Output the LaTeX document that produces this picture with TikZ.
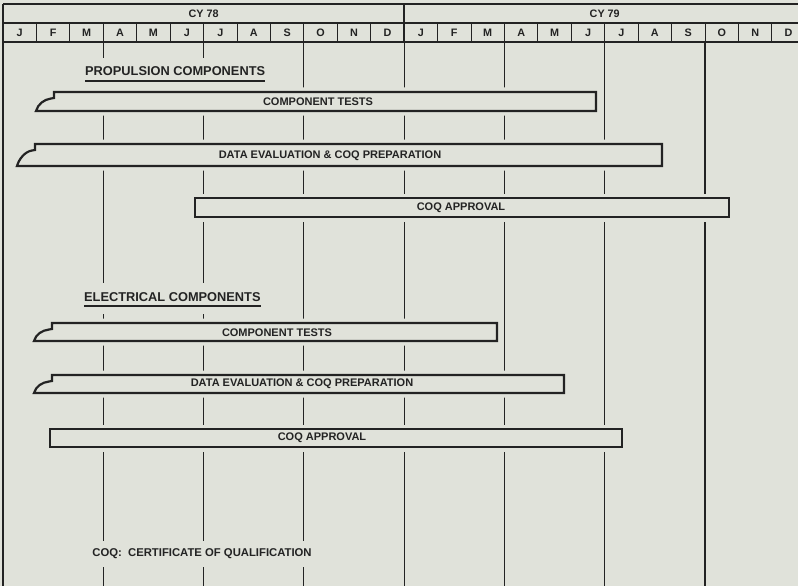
\documentclass[tikz,border=0pt]{standalone}
\usepackage{fontspec}
\setmainfont{Liberation Sans}
\usetikzlibrary{positioning}
\definecolor{paper}{RGB}{224,226,218}
\definecolor{ink}{RGB}{35,35,35}

% bar whose left end is broken off: top-left x, right x, top y, bottom y
\newcommand{\brokenbar}[4]{(#1,#3) -- (#1,#3+6) -- (#1-3,#3+6.5) .. controls (#1-10,#3+7.5) and (#1-16,#4-7) .. (#1-18,#4) -- (#2,#4) -- (#2,#3) -- cycle}

\begin{document}
\begin{tikzpicture}[
    x=1pt, y=-1pt,
    frame/.style={draw=ink, line width=1.5pt},
    sep/.style={draw=ink, line width=1pt},
    grid/.style={draw=ink, line width=1.2pt},
    bar/.style={draw=ink, line width=2.2pt, fill=paper},
    halo/.style={draw=paper, line width=9pt, fill=paper, line join=round},
    hdr/.style={font=\bfseries\fontsize{10.8}{12}\selectfont, text=ink, inner sep=0pt},
    lbl/.style={font=\bfseries\fontsize{11}{13}\selectfont, text=ink, inner sep=0pt},
    heading/.style={font=\bfseries\fontsize{12.8}{15}\selectfont, text=ink, fill=paper, inner xsep=3pt, inner ysep=9pt, text depth=4pt},
    note/.style={font=\bfseries\fontsize{11.3}{13}\selectfont, text=ink, fill=paper, inner xsep=3pt, inner ysep=8pt}
]
\useasboundingbox (0,0) rectangle (798,586);
\fill[paper] (0,0) rectangle (798,586);

% Quarter grid lines
\foreach \k in {3,6,...,21}
    \draw[grid] (3+\k*33.43,42) -- (3+\k*33.43,586);

% Header
\draw[frame] (3,4) -- (798,4);
\draw[frame] (3,23) -- (798,23);
\draw[frame] (3,42) -- (798,42);
\draw[frame] (3,4) -- (3,586);
\draw[frame] (3+12*33.43,4) -- (3+12*33.43,42);
\foreach \k in {1,...,23}
    \draw[sep] (3+\k*33.43,23) -- (3+\k*33.43,42);
\node[hdr] (cy78) at (3+6*33.43,14) {CY 78};
\node[hdr] (cy79) at (3+18*33.43,14) {CY 79};
\foreach \m [count=\i from 0] in {J,F,M,A,M,J,J,A,S,O,N,D,J,F,M,A,M,J,J,A,S,O,N,D}
    \node[hdr] (m\i) at (3+\i*33.43+16.7,33) {\m};

% Propulsion components
\node[heading, anchor=base west] (propHead) at (82,76) {PROPULSION COMPONENTS};
\draw[ink, line width=1.4pt, shorten <=3pt, shorten >=3pt] ([yshift=-5pt]propHead.base west) -- ([yshift=-5pt]propHead.base east);

\draw[halo] \brokenbar{54}{596}{92}{111};
\draw[bar] \brokenbar{54}{596}{92}{111};
\node[lbl] (propTests) at (318,102) {COMPONENT TESTS};

\draw[halo] \brokenbar{35}{662}{144}{166};
\draw[bar] \brokenbar{35}{662}{144}{166};
\node[lbl] (propEval) at (330,156) {DATA EVALUATION \& COQ PREPARATION};

\draw[halo] (195,198) rectangle (729,217);
\draw[bar] (195,198) rectangle (729,217);
\node[lbl] (propApproval) at (461,208) {COQ APPROVAL};

% Electrical components
\node[heading, anchor=base west] (elecHead) at (81,301) {ELECTRICAL COMPONENTS};
\draw[ink, line width=1.4pt, shorten <=3pt, shorten >=3pt] ([yshift=-5pt]elecHead.base west) -- ([yshift=-5pt]elecHead.base east);

\draw[halo] \brokenbar{52}{497}{323}{341};
\draw[bar] \brokenbar{52}{497}{323}{341};
\node[lbl] (elecTests) at (277,333) {COMPONENT TESTS};

\draw[halo] \brokenbar{52}{564}{375}{393};
\draw[bar] \brokenbar{52}{564}{375}{393};
\node[lbl] (elecEval) at (302,384) {DATA EVALUATION \& COQ PREPARATION};

\draw[halo] (50,429) rectangle (622,447);
\draw[bar] (50,429) rectangle (622,447);
\node[lbl] (elecApproval) at (322,438) {COQ APPROVAL};

% Footnote
\node[note] (coqNote) at (202,554) {COQ:\ \ CERTIFICATE OF QUALIFICATION};

\end{tikzpicture}
\end{document}
